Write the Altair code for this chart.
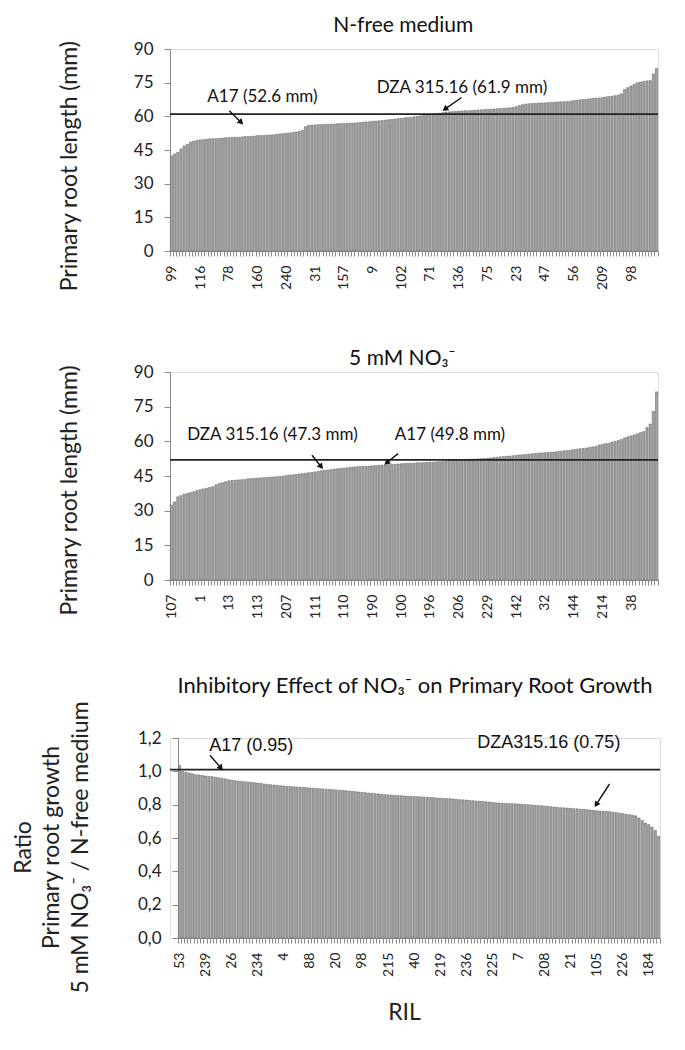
import json
import math
import altair as alt
import pandas as pd

FONT = "Lato"

# ---------------- data ----------------
n_free = [42.4, 43.2, 44.0, 45.5, 46.8, 47.5, 48.5, 49.0, 49.3, 49.5,
          49.6, 49.8, 50.0, 50.0, 50.1, 50.2, 50.3, 50.5, 50.5, 50.6,
          50.7, 50.7, 50.8, 51.0, 51.0, 51.1, 51.2, 51.4, 51.5, 51.5,
          51.6, 51.7, 51.8, 52.0, 52.2, 52.3, 52.5, 52.6, 52.8, 53.0,
          53.3, 53.8, 55.5, 56.0, 56.1, 56.2, 56.3, 56.3, 56.4, 56.5,
          56.5, 56.6, 56.7, 56.8, 56.8, 56.9, 57.0, 57.0, 57.1, 57.2,
          57.4, 57.5, 57.6, 57.8, 57.9, 58.0, 58.2, 58.3, 58.5, 58.6,
          58.8, 59.0, 59.1, 59.3, 59.5, 59.6, 59.8, 60.0, 60.2, 60.4,
          60.6, 60.8, 61.0, 61.2, 61.4, 61.6, 61.9, 62.0, 62.1, 62.2,
          62.3, 62.4, 62.5, 62.5, 62.6, 62.7, 62.8, 62.9, 63.0, 63.1,
          63.2, 63.3, 63.4, 63.5, 63.6, 63.7, 63.8, 64.0, 64.3, 64.8,
          65.2, 65.5, 65.6, 65.7, 65.8, 65.9, 66.0, 66.0, 66.1, 66.2,
          66.3, 66.4, 66.5, 66.5, 66.6, 66.7, 67.0, 67.2, 67.4, 67.5,
          67.6, 67.8, 68.0, 68.1, 68.2, 68.4, 68.6, 68.8, 69.0, 69.2,
          69.5, 70.0, 72.0, 72.8, 73.5, 74.3, 75.0, 75.3, 75.6, 75.8,
          76.0, 78.8, 81.4]

nitrate = [32.4, 33.8, 36.0, 36.5, 37.2, 37.5, 37.8, 38.2, 38.8, 39.1,
           39.4, 39.7, 40.0, 40.4, 41.2, 41.8, 42.1, 42.5, 42.9, 43.1,
           43.2, 43.3, 43.4, 43.5, 43.8, 43.9, 44.0, 44.1, 44.2, 44.3,
           44.4, 44.5, 44.6, 44.7, 44.8, 45.0, 45.2, 45.4, 45.5, 45.7,
           45.9, 46.0, 46.2, 46.4, 46.6, 46.8, 47.0, 47.3, 47.4, 47.6,
           47.8, 48.0, 48.1, 48.3, 48.4, 48.6, 48.8, 48.9, 49.0, 49.1,
           49.2, 49.2, 49.3, 49.4, 49.5, 49.6, 49.7, 49.8, 49.9, 50.0,
           50.1, 50.2, 50.3, 50.4, 50.5, 50.5, 50.6, 50.7, 50.7, 50.8,
           50.9, 51.0, 51.0, 51.1, 51.2, 51.3, 51.4, 51.8, 52.0, 52.0,
           52.1, 52.1, 52.2, 52.2, 52.3, 52.3, 52.4, 52.5, 52.6, 52.7,
           52.8, 53.0, 53.1, 53.3, 53.4, 53.5, 53.6, 53.8, 53.9, 54.1,
           54.2, 54.3, 54.5, 54.6, 54.8, 54.9, 55.0, 55.1, 55.2, 55.3,
           55.4, 55.6, 55.7, 55.9, 56.0, 56.2, 56.4, 56.6, 56.8, 56.9,
           57.1, 57.4, 57.6, 57.8, 58.4, 58.7, 59.0, 59.2, 59.7, 60.0,
           60.4, 60.8, 61.5, 62.0, 62.4, 62.8, 63.3, 63.8, 64.2, 66.0,
           67.5, 73.0, 81.4]

ratio = [1.035,
         1.00, 0.995, 0.99, 0.985, 0.98,
         0.978, 0.975, 0.972, 0.97, 0.968, 0.965, 0.962,
         0.958, 0.955, 0.95, 0.947, 0.944,
         0.942, 0.94, 0.938, 0.936, 0.934, 0.932, 0.93, 0.928, 0.924,
         0.922, 0.92, 0.918, 0.916, 0.914, 0.912,
         0.91, 0.909, 0.908, 0.906, 0.905, 0.904, 0.902, 0.90, 0.899, 0.898,
         0.896, 0.895, 0.893, 0.892, 0.89, 0.889, 0.887, 0.886, 0.884, 0.882, 0.88,
         0.878, 0.876, 0.874, 0.872, 0.87, 0.868, 0.866, 0.865, 0.862, 0.86,
         0.859, 0.858, 0.856, 0.855, 0.854, 0.852, 0.851, 0.85, 0.849, 0.848,
         0.847, 0.846, 0.845,
         0.843, 0.842, 0.84, 0.839, 0.838, 0.837, 0.836,
         0.834, 0.832, 0.83, 0.829, 0.828, 0.825, 0.824, 0.822, 0.821, 0.82,
         0.818, 0.816, 0.814, 0.812, 0.81, 0.809, 0.808, 0.807, 0.806, 0.805, 0.804,
         0.803, 0.802, 0.80, 0.798, 0.796, 0.795, 0.794, 0.792, 0.79,
         0.788, 0.786, 0.784, 0.782, 0.781, 0.78, 0.778, 0.776, 0.775, 0.773, 0.772,
         0.77, 0.768, 0.766, 0.764, 0.762, 0.761, 0.76, 0.758,
         0.755, 0.752, 0.749, 0.746, 0.743, 0.74, 0.737, 0.733,
         0.72, 0.705, 0.69, 0.68, 0.665, 0.645, 0.61]

labels_nfree = ["99", "116", "78", "160", "240", "31", "157", "9", "102", "71",
                "136", "75", "23", "47", "56", "209", "98"]
labels_nitrate = ["107", "1", "13", "113", "207", "111", "110", "190", "100", "196",
                  "206", "229", "142", "32", "144", "214", "38"]
labels_ratio = ["53", "239", "26", "234", "4", "88", "20", "98", "215", "40",
                "219", "236", "225", "7", "208", "21", "105", "226", "184"]

ref_nfree = 61.0
ref_nitrate = 52.0
ref_ratio = 1.01

# annotations: text, anchor (bar-index units, value units)
ann1_text = ["A17 (52.6 mm)", "DZA 315.16 (61.9 mm)"]
ann1_x = [11.7, 64.8]
ann1_y = [66.5, 70.6]
arr1_x1 = [18.6, 91.4]
arr1_y1 = [62.5, 68.4]
arr1_x2 = [22.3, 86.2]
arr1_y2 = [57.3, 63.2]

ann2_text = ["DZA 315.16 (47.3 mm)", "A17 (49.8 mm)"]
ann2_x = [5.4, 70.5]
ann2_y = [60.5, 60.5]
arr2_x1 = [44.5, 71.5]
arr2_y1 = [54.0, 54.7]
arr2_x2 = [47.4, 67.9]
arr2_y2 = [49.0, 50.7]

ann3_text = ["A17 (0.95)", "DZA315.16 (0.75)"]
ann3_x = [9.6, 91.9]
ann3_y = [1.125, 1.14]
arr3_x1 = [9.8, 132.5]
arr3_y1 = [1.096, 0.924]
arr3_x2 = [13.2, 128.4]
arr3_y2 = [1.02, 0.80]


def panel(values, labels, label_step, width, height, ymax, ystep, ref_y,
          ann, arrows, title, title_size, title_anchor, title_dx, title_offset,
          ytitle, ytitle_x, ytitle_y, x_start=0.0, comma=False,
          ann_font=FONT, ann_size=17, xtitle=None, y_offset=0):
    n = len(values)
    df = pd.DataFrame({"i": list(range(n)), "v": values})
    xr = [x_start, width]
    label_expr = (f"(datum.value % {label_step} == 0 && datum.value / {label_step} < {len(labels)})"
                  f" ? {json.dumps(labels)}[datum.value / {label_step}] : ''")
    yvals = [round(k * ystep, 4) for k in range(int(round(ymax / ystep)) + 1)]
    ylabel_expr = ("replace(format(datum.value, '.1f'), '.', ',')" if comma
                   else "format(datum.value, 'd')")
    yscale = alt.Scale(domain=[0, ymax], nice=False, zero=True)
    yaxis = alt.Axis(values=yvals, labelExpr=ylabel_expr, grid=False,
                     labelOverlap=False, tickCount=len(yvals),
                     tickSize=6, tickColor="#8a8a8a", domainColor="#8a8a8a",
                     labelFont=FONT, labelFontSize=17, labelColor="#222",
                     labelPadding=11, offset=y_offset,
                     title=ytitle, titleFont=FONT, titleFontSize=23,
                     titleFontWeight="normal", titleColor="#222",
                     titleAngle=270, titleBaseline="middle", titleAlign="center",
                     titleX=ytitle_x, titleY=ytitle_y, titleLineHeight=28.5)

    xaxis_kw = dict(labelExpr=label_expr, labelAngle=270, labelAlign="right",
                    labelBaseline="middle", labelOverlap=False, labelFontSize=14,
                    labelFont=FONT, labelColor="#222", labelPadding=9,
                    tickBand="extent", tickSize=5, tickColor="#8a8a8a",
                    domainColor="#8a8a8a", grid=False)
    if xtitle:
        xaxis_kw.update(title=xtitle, titleFont=FONT, titleFontSize=23,
                        titleFontWeight="normal", titleColor="#222",
                        titlePadding=25, titleX=234, titleAlign="center")
    else:
        xaxis_kw.update(title=None)

    bars = alt.Chart(df).mark_bar(fill="#a4a4a4", stroke="#5c5c5c", strokeWidth=0.5).encode(
        x=alt.X("i:O", sort=None,
                scale=alt.Scale(range=xr, paddingInner=0.3, paddingOuter=0.1),
                axis=alt.Axis(**xaxis_kw)),
        y=alt.Y("v:Q", scale=yscale, axis=yaxis),
    )

    ref = alt.Chart(pd.DataFrame({"v": [ref_y]})).mark_rule(
        color="#222222", strokeWidth=1.8).encode(y=alt.Y("v:Q", scale=yscale, axis=yaxis))

    xq = alt.Scale(domain=[0, n], range=xr, nice=False, zero=False)
    a_text, a_x, a_y = ann
    texts = alt.Chart(pd.DataFrame({"t": a_text, "x": a_x, "v": a_y})).mark_text(
        align="left", baseline="alphabetic", font=ann_font, fontSize=ann_size,
        color="#111111").encode(
        x=alt.X("x:Q", scale=xq, axis=None),
        y=alt.Y("v:Q", scale=yscale, axis=yaxis),
        text="t:N")

    x1, y1, x2, y2 = arrows
    step_px = (width - x_start) / n
    ypx = height / ymax
    angles = []
    for a, b, c, d in zip(x1, y1, x2, y2):
        dx = (c - a) * step_px
        dy = -(d - b) * ypx
        angles.append(math.degrees(math.atan2(dx, -dy)) % 360)
    adf = pd.DataFrame({"x": x1, "v": y1, "x2": x2, "v2": y2})
    shafts = alt.Chart(adf).mark_rule(color="#111111", strokeWidth=1.4).encode(
        x=alt.X("x:Q", scale=xq, axis=None),
        y=alt.Y("v:Q", scale=yscale, axis=yaxis),
        x2="x2:Q", y2="v2:Q")
    hdf = pd.DataFrame({"x": x2, "v": y2, "ang": angles})
    heads = alt.Chart(hdf).mark_point(shape="triangle-up", filled=True, size=45,
                                      color="#111111", opacity=1).encode(
        x=alt.X("x:Q", scale=xq, axis=None),
        y=alt.Y("v:Q", scale=yscale, axis=yaxis),
        angle=alt.Angle("ang:Q", scale=None))

    return alt.layer(bars, ref, texts, shafts, heads).resolve_scale(x="independent").properties(
        width=width, height=height,
        title=alt.TitleParams(text=title, font=FONT, fontSize=title_size, fontWeight="normal",
                              color="#111111", anchor=title_anchor, dx=title_dx, frame="group",
                              offset=title_offset, baseline="alphabetic"))


p1 = panel(n_free, labels_nfree, 9, 488, 202, 90, 15, ref_nfree,
           (ann1_text, ann1_x, ann1_y), (arr1_x1, arr1_y1, arr1_x2, arr1_y2),
           "N-free medium", 21, "middle", -10.7, -13.2,
           "Primary root length (mm)", -100.7, 116.7)
p2 = panel(nitrate, labels_nitrate, 9, 488, 208, 90, 15, ref_nitrate,
           (ann2_text, ann2_x, ann2_y), (arr2_x1, arr2_y1, arr2_x2, arr2_y2),
           "5 mM NO\u2083\u207b", 21, "middle", -11.7, -22.6,
           "Primary root length (mm)", -100.7, 118)
p3 = panel(ratio, labels_ratio, 8, 490, 200, 1.2, 0.2, ref_ratio,
           (ann3_text, ann3_x, ann3_y), (arr3_x1, arr3_y1, arr3_x2, arr3_y2),
           "Inhibitory Effect  of NO\u2083\u207b on Primary Root Growth", 22, "start", 7.6, -13.7,
           ["Ratio", "Primary root growth", "5 mM NO\u2083\u207b / N-free medium"], -154.7, 109,
           x_start=8, comma=True, ann_font="Liberation Sans", ann_size=18,
           xtitle="RIL", y_offset=-8)

chart = alt.vconcat(p1, p2, p3, spacing=55).properties(
    padding={"left": 3, "top": 6, "right": 0, "bottom": 0}
).configure_view(stroke=None).configure(font=FONT)

chart.save("out.html", embed_options={"renderer": "svg", "actions": False})
